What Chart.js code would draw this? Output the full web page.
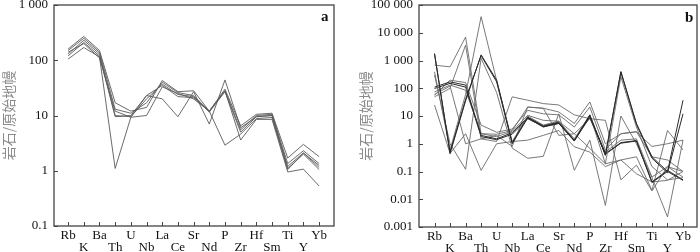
<!DOCTYPE html>
<html>
<head>
<meta charset="utf-8">
<script src="https://cdn.jsdelivr.net/npm/chart.js@4"></script>
<style>
  html, body { margin: 0; padding: 0; background: #fff; }
  #wrap { position: relative; width: 700px; height: 252px; overflow: hidden; }
  canvas { position: absolute; top: 0; }
  .tag { position: absolute; font: bold 15px "Liberation Serif", serif; color: #111; }
</style>
</head>
<body>
<div id="wrap">
  <canvas id="chartA" width="340" height="252" style="left:0"></canvas>
  <canvas id="chartB" width="350" height="252" style="left:350px"></canvas>
  <div class="tag" style="left:321px; top:8px">a</div>
  <div class="tag" style="left:685px; top:9px">b</div>
</div>
<script>
// element order along the x axis
const elements = ["Rb", "K", "Ba", "Th", "U", "Nb", "La", "Ce", "Sr", "Nd", "P", "Zr", "Hf", "Sm", "Ti", "Y", "Yb"]

const yTicksA = [0.1, 1, 10, 100, 1000]
const yTicksB = [0.001, 0.01, 0.1, 1, 10, 100, 1000, 10000, 100000]
const yTitle = "岩石/原始地幔"

// panel a samples (rock / primitive mantle)
const a1 = [160, 270, 150, 17, 12, 14, 43, 27, 28, 12, 30, 6.5, 10.5, 11, 1.7, 3.0, 1.8]
const a2 = [150, 250, 140, 13, 11, 17, 40, 26, 23, 12, 28, 5.5, 10, 10.5, 1.35, 2.3, 1.35]
const a3 = [130, 230, 130, 10, 9.5, 20, 37, 24, 22, 11.5, 27, 5, 9.5, 10, 1.2, 2.1, 1.25]
const a4 = [120, 210, 120, 9.5, 10, 23, 35, 22, 21, 12, 2.9, 4.6, 8.8, 9.2, 1.1, 2.0, 1.05]
const a5 = [105, 170, 115, 1.1, 9.3, 10, 33, 25, 20, 12, 28, 3.6, 8.5, 8.5, 0.95, 1.07, 0.53]
const a6 = [140, 200, 110, 12, 9.3, 23, 20, 9.5, 27, 7, 44, 6, 9.5, 10, 1.05, 2.1, 1.15]

// panel b samples
const b1 = [1800, 0.44, 35, 1600, 195, 1.1, 9, 4.2, 5.8, 1.3, 11, 0.4, 400, 5.4, 0.34, 0.1, 37]
const b2 = [1700, 0.5, 40, 1500, 170, 1.0, 8.5, 4.0, 5.4, 1.25, 10, 0.38, 380, 5.0, 0.3, 0.09, 12]
const b3 = [390, 0.6, 60, 38000, 190, 1.2, 10, 4.7, 6.5, 1.5, 11, 0.19, 260, 4, 0.15, 0.05, 0.06]
const b4 = [110, 170, 130, 2.0, 1.5, 2.5, 9, 4.5, 6, 1.35, 10, 0.44, 1.1, 1.3, 0.042, 0.11, 0.05]
const b5 = [98, 150, 110, 1.8, 1.4, 2.2, 8, 4.2, 5.4, 1.3, 9, 0.42, 1.05, 1.25, 0.04, 0.1, 0.048]
const b6 = [74, 130, 85, 2.3, 1.8, 2.8, 10.6, 7, 6.5, 2.3, 8, 0.5, 1.35, 1.5, 0.063, 0.15, 0.063]
const b7 = [56, 195, 160, 4.7, 2.6, 3.4, 16, 12, 11, 4, 21, 0.6, 2.3, 2.7, 0.34, 0.26, 0.1]
const b8 = [680, 590, 7000, 2.3, 2.2, 3, 21, 19, 14, 5.4, 32, 1, 2.3, 2.7, 0.8, 1, 1.35]
const b9 = [49, 100, 3600, 1.5, 1.2, 49, 37, 28, 25, 11, 8, 7, 0.05, 0.17, 0.02, 0.15, 0.1]
const b10 = [300, 1, 0.12, 1200, 70, 0.7, 0.3, 0.35, 12, 0.11, 1.35, 0.006, 10, 1, 0.06, 0.0023, 1.35]
const b11 = [25, 0.45, 2.3, 0.11, 1.0, 1.2, 1.35, 2, 3, 0.78, 0.5, 0.15, 0.26, 0.34, 0.021, 3, 0.6]
const b12 = [60, 120, 1, 1.5, 2.0, 0.8, 21, 19, 2, 2.3, 0.68, 0.19, 0.26, 0.083, 0.042, 0.048, 0.1]

const samplesA = [a1, a2, a3, a4, a5, a6]
const samplesB = [b1, b2, b3, b4, b5, b6, b7, b8, b9, b10, b11, b12]
const darkB = [b1, b2, b4, b5]

const serif = "'Liberation Serif', 'Times New Roman', serif"

// "1000" -> "1 000"
const fmt = (v) => (v >= 1000 ? String(v).replace(/\B(?=(\d{3})+(?!\d))/g, " ") : String(v))

// box around the plot + short inward tick marks
const framePlugin = {
  id: "frame",
  afterDraw(chart) {
    const { ctx, chartArea: a, scales } = chart
    ctx.save()
    ctx.strokeStyle = "#444"
    ctx.lineWidth = 1.3
    ctx.strokeRect(a.left, a.top, a.right - a.left, a.bottom - a.top)
    ctx.lineWidth = 1
    ctx.beginPath()
    scales.x.ticks.forEach((t) => {
      const x = Math.round(scales.x.getPixelForValue(t.value)) + 0.5
      ctx.moveTo(x, a.bottom)
      ctx.lineTo(x, a.bottom - 4)
    })
    scales.y.ticks.forEach((t) => {
      const y = Math.round(scales.y.getPixelForValue(t.value)) + 0.5
      ctx.moveTo(a.left, y)
      ctx.lineTo(a.left + 4, y)
    })
    ctx.stroke()
    ctx.restore()
  },
}

function makeChart(id, samples, dark, yTicks, box) {
  const datasets = samples.map((s) => ({
    data: s.map((v, i) => ({ x: i, y: v })),
    borderColor: dark.includes(s) ? "#2a2a2a" : box.lineColor,
    borderWidth: dark.includes(s) ? 1.0 : 0.9,
    pointRadius: 0,
    tension: 0,
    fill: false,
  }))

  return new Chart(document.getElementById(id), {
    type: "line",
    data: { datasets },
    options: {
      responsive: false,
      animation: false,
      events: [],
      layout: { padding: { left: 0, right: box.right, top: box.top, bottom: 0 } },
      plugins: { legend: { display: false }, tooltip: { enabled: false } },
      scales: {
        x: {
          type: "linear",
          min: box.xMin,
          max: box.xMax,
          grid: { display: false, drawTicks: false },
          border: { display: false },
          afterBuildTicks: (s) => {
            s.ticks = elements.map((_, i) => ({ value: i }))
          },
          afterFit: (s) => {
            s.height = box.xHeight
            s.paddingLeft = 0
            s.paddingRight = 0
          },
          ticks: {
            autoSkip: false,
            maxRotation: 0,
            padding: 4,
            color: "#111",
            font: { family: serif, size: 13, lineHeight: 0.9 },
            callback: (v, i) => (i % 2 ? ["", elements[i]] : elements[i]),
          },
        },
        y: {
          type: "logarithmic",
          min: yTicks[0],
          max: yTicks[yTicks.length - 1],
          grid: { display: false, drawTicks: false },
          border: { display: false },
          afterBuildTicks: (s) => {
            s.ticks = yTicks.map((v) => ({ value: v }))
          },
          afterFit: (s) => {
            s.width = box.yWidth
            s.paddingTop = 0
            s.paddingBottom = 0
          },
          ticks: {
            padding: 6,
            color: "#111",
            font: { family: serif, size: 13 },
            callback: (v) => fmt(v),
          },
          title: {
            display: true,
            text: yTitle,
            color: "#8a8a8a",
            padding: { top: box.titlePad, bottom: 0 },
            font: { family: "'Noto Sans CJK SC', sans-serif", size: 14 },
          },
        },
      },
    },
    plugins: [framePlugin],
  })
}

makeChart("chartA", samplesA, [], yTicksA, {
  xMin: -0.9, xMax: 16.95, xHeight: 26, yWidth: 54, right: 6, top: 5, titlePad: 0, lineColor: "#5a5a5a",
})
makeChart("chartB", samplesB, darkB, yTicksB, {
  xMin: -1.0, xMax: 16.9, xHeight: 25, yWidth: 69, right: 3, top: 5, titlePad: 7, lineColor: "#6a6a6a",
})
</script>
</body>
</html>
